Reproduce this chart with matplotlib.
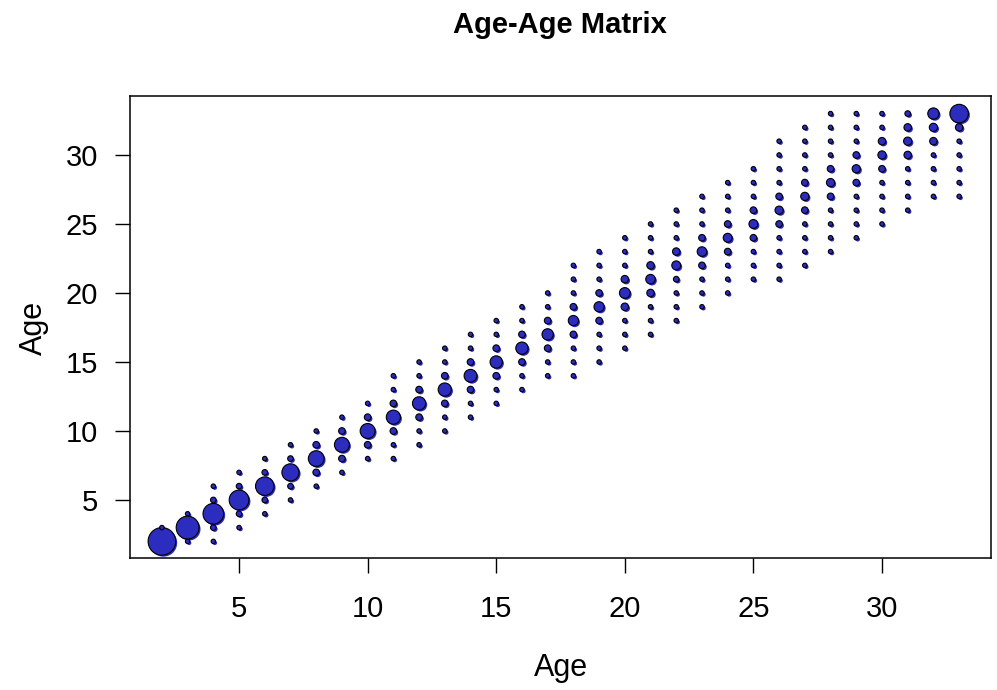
import matplotlib
matplotlib.use("Agg")
import matplotlib.pyplot as plt
import matplotlib.transforms as mtransforms

plt.rcParams['font.family'] = ['Liberation Sans', 'DejaVu Sans']

# age read by reader 1 (x), lowest age read by reader 2 (y) in that column,
# and the number of fish at each age-2 value going upward from that lowest age
age1 = [2, 3, 4, 5, 6, 7, 8, 9, 10, 11, 12, 13, 14, 15, 16, 17,
        18, 19, 20, 21, 22, 23, 24, 25, 26, 27, 28, 29, 30, 31, 32, 33]
age2_low = [2, 2, 2, 3, 4, 5, 6, 7, 8, 8, 9, 10, 11, 12, 13, 14,
            14, 15, 16, 17, 18, 19, 20, 21, 21, 22, 23, 24, 25, 26, 27, 27]
counts = [
    [63, 1],
    [1, 43, 1],
    [1, 2, 35, 2, 1],
    [1, 2, 32, 2, 1],
    [1, 2, 28, 2, 1],
    [1, 2, 24, 2, 1],
    [1, 3, 20, 3, 1],
    [1, 3, 18, 3, 1],
    [1, 3, 18, 3, 1],
    [1, 1, 3, 16, 3, 1, 1],
    [1, 1, 3, 14, 3, 1, 1],
    [1, 1, 3, 14, 3, 1, 1],
    [1, 1, 3, 13, 3, 1, 1],
    [1, 1, 3, 12, 3, 1, 1],
    [1, 1, 3, 12, 3, 1, 1],
    [1, 1, 3, 10, 3, 1, 1],
    [1, 1, 1, 3, 8, 3, 1, 1, 1],
    [1, 1, 1, 3, 8, 3, 1, 1, 1],
    [1, 1, 1, 4, 9, 4, 1, 1, 1],
    [1, 1, 1, 4, 7, 4, 1, 1, 1],
    [1, 1, 1, 2, 6, 4, 1, 1, 1],
    [1, 1, 1, 3, 7, 3, 1, 1, 1],
    [1, 1, 1, 3, 6, 3, 1, 1, 1],
    [1, 1, 1, 3, 6, 3, 1, 1, 1],
    [1, 1, 1, 1, 3, 5, 3, 1, 1, 1, 1],
    [1, 1, 1, 1, 3, 5, 3, 1, 1, 1, 1],
    [1, 1, 1, 1, 3, 5, 3, 1, 1, 1, 1],
    [1, 1, 1, 1, 3, 5, 3, 1, 1, 1],
    [1, 1, 1, 1, 3, 5, 4, 1, 1],
    [1, 1, 1, 1, 4, 5, 4, 2],
    [1, 1, 1, 1, 4, 5, 10],
    [1, 1, 1, 1, 1, 4, 28],
]
ticks = [5, 10, 15, 20, 25, 30]

xs, ys, ns = [], [], []
for a, lo, col in zip(age1, age2_low, counts):
    for k, n in enumerate(col):
        xs.append(a)
        ys.append(lo + k)
        ns.append(n)

fig = plt.figure(figsize=(9.97, 6.9), dpi=100)
ax = fig.add_axes([0.1304, 0.1906, 0.8636, 0.6696])

fill = '#2c2cbf'
sizes = [4 + 6.2 * n for n in ns]
# the blue fill sits a pixel right/down of the black outline, like the original
shadow = mtransforms.offset_copy(ax.transData, fig=fig, x=1.5, y=-1.5, units='dots')
ax.scatter(xs, ys, s=sizes, c=fill, edgecolors='none', transform=shadow, zorder=2)
ax.scatter(xs, ys, s=sizes, c=fill, edgecolors='black', linewidths=0.8, zorder=3)

ax.set_xlim(0.76, 34.24)
ax.set_ylim(0.76, 34.24)
ax.set_xticks(ticks)
ax.set_yticks(ticks)
ax.tick_params(axis='both', direction='out', length=11, width=1, labelsize=21, color='black')
ax.tick_params(axis='x', pad=15)
ax.tick_params(axis='y', pad=12)
for sp in ax.spines.values():
    sp.set_linewidth(1.1)
    sp.set_color('black')

ax.set_xlabel('Age', fontsize=22, labelpad=22)
ax.set_ylabel('Age', fontsize=22, labelpad=12)
fig.text(0.562, 0.964, 'Age-Age Matrix', ha='center', va='center',
         fontsize=21, fontweight='bold')

fig.savefig('out.png', dpi=100)
